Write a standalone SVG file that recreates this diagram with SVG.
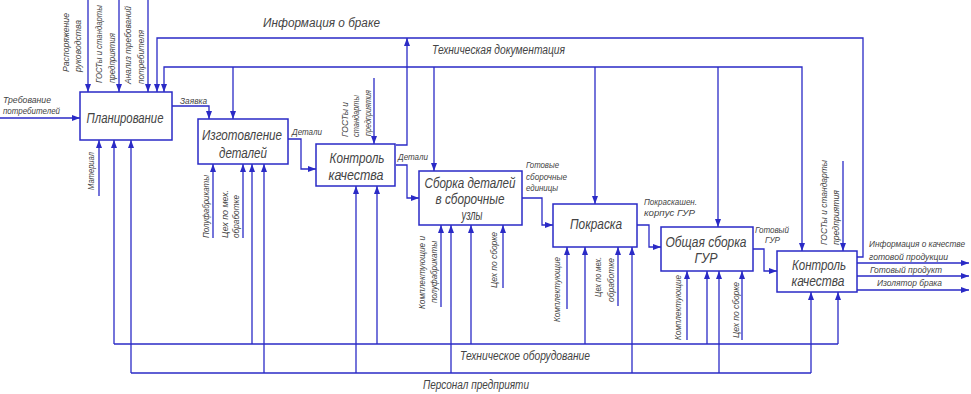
<svg xmlns="http://www.w3.org/2000/svg" width="971" height="394" viewBox="0 0 971 394">
<style>
.ln{fill:none;stroke:#2a2ac6;stroke-width:1.3}
.a{marker-end:url(#ah)}
.box{fill:#fff;stroke:#2a2ac6;stroke-width:1.5}
.t{font-family:"Liberation Sans",Arial,sans-serif;font-style:italic;fill:#444}
.n{font-size:14px;text-anchor:middle}
.s{font-size:9.5px}
.m{font-size:12.5px}
</style>
<defs>
<marker id="ah" markerUnits="userSpaceOnUse" markerWidth="8" markerHeight="6" refX="8" refY="3" orient="auto">
<path d="M0,0 L8,3 L0,6 z" fill="#2a2ac6"/>
</marker>
</defs>
<rect width="971" height="394" fill="#fff"/>
<g id="connectors">
<path class="ln a" d="M0,118 H80"/>
<path class="ln a" d="M88,0 V92"/>
<path class="ln a" d="M119,0 V92"/>
<path class="ln a" d="M148,0 V92"/>
<path class="ln a" d="M857,257 H863 V38 H157 V92"/>
<path class="ln a" d="M396,145 H407 V38"/>
<path class="ln a" d="M483,67 H164 V92"/>
<path class="ln a" d="M483,67 H802 V251"/>
<path class="ln a" d="M233,67 V119"/>
<path class="ln a" d="M434,67 V171"/>
<path class="ln a" d="M595,67 V204"/>
<path class="ln a" d="M718,67 V227"/>
<path class="ln a" d="M172,106 H209 V119"/>
<path class="ln a" d="M288,139 H301 V169 H316"/>
<path class="ln a" d="M374,78 V144"/>
<path class="ln a" d="M396,165 H407 V198 H419"/>
<path class="ln a" d="M522,198 H542 V225 H553"/>
<path class="ln a" d="M637,225 H649 V247 H661"/>
<path class="ln a" d="M753,249 H764 V271 H777"/>
<path class="ln a" d="M843,161 V251"/>
<path class="ln a" d="M857,263 H969"/>
<path class="ln a" d="M857,276 H969"/>
<path class="ln a" d="M857,290 H969"/>
<path class="ln" d="M114,344 H838"/>
<path class="ln" d="M131,373 H811"/>
<path class="ln a" d="M99,196 V140"/>
<path class="ln a" d="M114,344 V140"/>
<path class="ln a" d="M131,373 V140"/>
<path class="ln a" d="M213,238 V164"/>
<path class="ln a" d="M243,238 V164"/>
<path class="ln a" d="M252,344 V164"/>
<path class="ln a" d="M264,373 V164"/>
<path class="ln a" d="M356,373 V186"/>
<path class="ln a" d="M377,344 V186"/>
<path class="ln a" d="M441,307 V225"/>
<path class="ln a" d="M451,373 V225"/>
<path class="ln a" d="M471,344 V225"/>
<path class="ln a" d="M503,288 V225"/>
<path class="ln a" d="M567,309 V247"/>
<path class="ln a" d="M585,344 V247"/>
<path class="ln a" d="M618,306 V247"/>
<path class="ln a" d="M632,373 V247"/>
<path class="ln a" d="M687,340 V271"/>
<path class="ln a" d="M707,344 V271"/>
<path class="ln a" d="M719,373 V271"/>
<path class="ln a" d="M742,340 V271"/>
<path class="ln a" d="M811,373 V292"/>
<path class="ln a" d="M838,344 V292"/>
</g>
<g id="labels">
<text class="t m" x="263" y="27" textLength="117" lengthAdjust="spacingAndGlyphs">Информация о браке</text>
<text class="t m" x="432" y="54" textLength="133" lengthAdjust="spacingAndGlyphs">Техническая документация</text>
<text class="t m" x="460" y="360" textLength="130" lengthAdjust="spacingAndGlyphs">Техническое оборудование</text>
<text class="t m" x="423" y="389" textLength="106" lengthAdjust="spacingAndGlyphs">Персонал предприяти</text>
<text class="t s" x="3" y="103" textLength="48" lengthAdjust="spacingAndGlyphs">Требование</text>
<text class="t s" x="3" y="114" textLength="57" lengthAdjust="spacingAndGlyphs">потребителей</text>
<text class="t s" x="180" y="104" textLength="27" lengthAdjust="spacingAndGlyphs">Заявка</text>
<text class="t s" x="292" y="135" textLength="30" lengthAdjust="spacingAndGlyphs">Детали</text>
<text class="t s" x="398" y="160" textLength="30" lengthAdjust="spacingAndGlyphs">Детали</text>
<text class="t s" x="526" y="168" textLength="33" lengthAdjust="spacingAndGlyphs">Готовые</text>
<text class="t s" x="526" y="180" textLength="41" lengthAdjust="spacingAndGlyphs">сборочные</text>
<text class="t s" x="526" y="191" textLength="32" lengthAdjust="spacingAndGlyphs">единицы</text>
<text class="t s" x="644" y="205" textLength="53" lengthAdjust="spacingAndGlyphs">Покраскашен.</text>
<text class="t s" x="644" y="216" textLength="51" lengthAdjust="spacingAndGlyphs">корпус ГУР</text>
<text class="t s" x="755" y="233" textLength="34" lengthAdjust="spacingAndGlyphs">Готовый</text>
<text class="t s" x="765" y="243" textLength="15" lengthAdjust="spacingAndGlyphs">ГУР</text>
<text class="t s" x="869" y="247" textLength="96" lengthAdjust="spacingAndGlyphs">Информация о качестве</text>
<text class="t s" x="869" y="260" textLength="79" lengthAdjust="spacingAndGlyphs">готовой продукции</text>
<text class="t s" x="870" y="273" textLength="72" lengthAdjust="spacingAndGlyphs">Готовый продукт</text>
<text class="t s" x="877" y="286" textLength="65" lengthAdjust="spacingAndGlyphs">Изолятор брака</text>
<text class="t s" transform="translate(69,72) rotate(-90)" textLength="59" lengthAdjust="spacingAndGlyphs">Распоряжение</text>
<text class="t s" transform="translate(81,72) rotate(-90)" textLength="52" lengthAdjust="spacingAndGlyphs">руководства</text>
<text class="t s" transform="translate(102,83) rotate(-90)" textLength="78" lengthAdjust="spacingAndGlyphs">ГОСТы и стандарты</text>
<text class="t s" transform="translate(115,83) rotate(-90)" textLength="50" lengthAdjust="spacingAndGlyphs">предприятия</text>
<text class="t s" transform="translate(131,84) rotate(-90)" textLength="78" lengthAdjust="spacingAndGlyphs">Анализ требований</text>
<text class="t s" transform="translate(144,84) rotate(-90)" textLength="54" lengthAdjust="spacingAndGlyphs">потребителя</text>
<text class="t s" transform="translate(94,190) rotate(-90)" textLength="38" lengthAdjust="spacingAndGlyphs">Материал</text>
<text class="t s" transform="translate(209,238) rotate(-90)" textLength="63" lengthAdjust="spacingAndGlyphs">Полуфабрикаты</text>
<text class="t s" transform="translate(228,238) rotate(-90)" textLength="48" lengthAdjust="spacingAndGlyphs">Цех по мех.</text>
<text class="t s" transform="translate(239,238) rotate(-90)" textLength="43" lengthAdjust="spacingAndGlyphs">обработке</text>
<text class="t s" transform="translate(348,137) rotate(-90)" textLength="35" lengthAdjust="spacingAndGlyphs">ГОСТы и</text>
<text class="t s" transform="translate(359,137) rotate(-90)" textLength="42" lengthAdjust="spacingAndGlyphs">стандарты</text>
<text class="t s" transform="translate(371,136) rotate(-90)" textLength="46" lengthAdjust="spacingAndGlyphs">предприятия</text>
<text class="t s" transform="translate(425,309) rotate(-90)" textLength="73" lengthAdjust="spacingAndGlyphs">Комплектующие и</text>
<text class="t s" transform="translate(437,303) rotate(-90)" textLength="62" lengthAdjust="spacingAndGlyphs">полуфабрикаты</text>
<text class="t s" transform="translate(497,288) rotate(-90)" textLength="56" lengthAdjust="spacingAndGlyphs">Цех по сборке</text>
<text class="t s" transform="translate(560,322) rotate(-90)" textLength="65" lengthAdjust="spacingAndGlyphs">Комплектующие</text>
<text class="t s" transform="translate(601,297) rotate(-90)" textLength="40" lengthAdjust="spacingAndGlyphs">Цех по мех.</text>
<text class="t s" transform="translate(614,302) rotate(-90)" textLength="44" lengthAdjust="spacingAndGlyphs">обработке</text>
<text class="t s" transform="translate(681,340) rotate(-90)" textLength="65" lengthAdjust="spacingAndGlyphs">Комплектующие</text>
<text class="t s" transform="translate(739,338) rotate(-90)" textLength="56" lengthAdjust="spacingAndGlyphs">Цех по сборке</text>
<text class="t s" transform="translate(827,245) rotate(-90)" textLength="85" lengthAdjust="spacingAndGlyphs">ГОСТы и стандарты</text>
<text class="t s" transform="translate(839,245) rotate(-90)" textLength="55" lengthAdjust="spacingAndGlyphs">предприятия</text>
</g>
<g id="planning">
<rect class="box" x="80" y="92" width="92" height="48"/>
<text class="t n" x="125" y="123" textLength="77" lengthAdjust="spacingAndGlyphs">Планирование</text>
</g>
<g id="manufacturing">
<rect class="box" x="198" y="119" width="90" height="45"/>
<text class="t n" x="242" y="140" textLength="80" lengthAdjust="spacingAndGlyphs">Изготовление</text>
<text class="t n" x="243" y="158" textLength="48" lengthAdjust="spacingAndGlyphs">деталей</text>
</g>
<g id="qc1">
<rect class="box" x="316" y="144" width="79" height="42"/>
<text class="t n" x="357" y="163" textLength="55" lengthAdjust="spacingAndGlyphs">Контроль</text>
<text class="t n" x="356" y="180" textLength="55" lengthAdjust="spacingAndGlyphs">качества</text>
</g>
<g id="assembly">
<rect class="box" x="419" y="171" width="103" height="54"/>
<text class="t n" x="470" y="188" textLength="91" lengthAdjust="spacingAndGlyphs">Сборка деталей</text>
<text class="t n" x="470" y="204" textLength="69" lengthAdjust="spacingAndGlyphs">в сборочные</text>
<text class="t n" x="472" y="220" textLength="21" lengthAdjust="spacingAndGlyphs">узлы</text>
</g>
<g id="painting">
<rect class="box" x="553" y="204" width="84" height="43"/>
<text class="t n" x="596" y="229" textLength="52" lengthAdjust="spacingAndGlyphs">Покраска</text>
</g>
<g id="final-assembly">
<rect class="box" x="661" y="227" width="92" height="44"/>
<text class="t n" x="706" y="247" textLength="81" lengthAdjust="spacingAndGlyphs">Общая сборка</text>
<text class="t n" x="706" y="263" textLength="23" lengthAdjust="spacingAndGlyphs">ГУР</text>
</g>
<g id="qc2">
<rect class="box" x="777" y="251" width="80" height="41"/>
<text class="t n" x="819" y="270" textLength="54" lengthAdjust="spacingAndGlyphs">Контроль</text>
<text class="t n" x="818" y="286" textLength="53" lengthAdjust="spacingAndGlyphs">качества</text>
</g>
</svg>
